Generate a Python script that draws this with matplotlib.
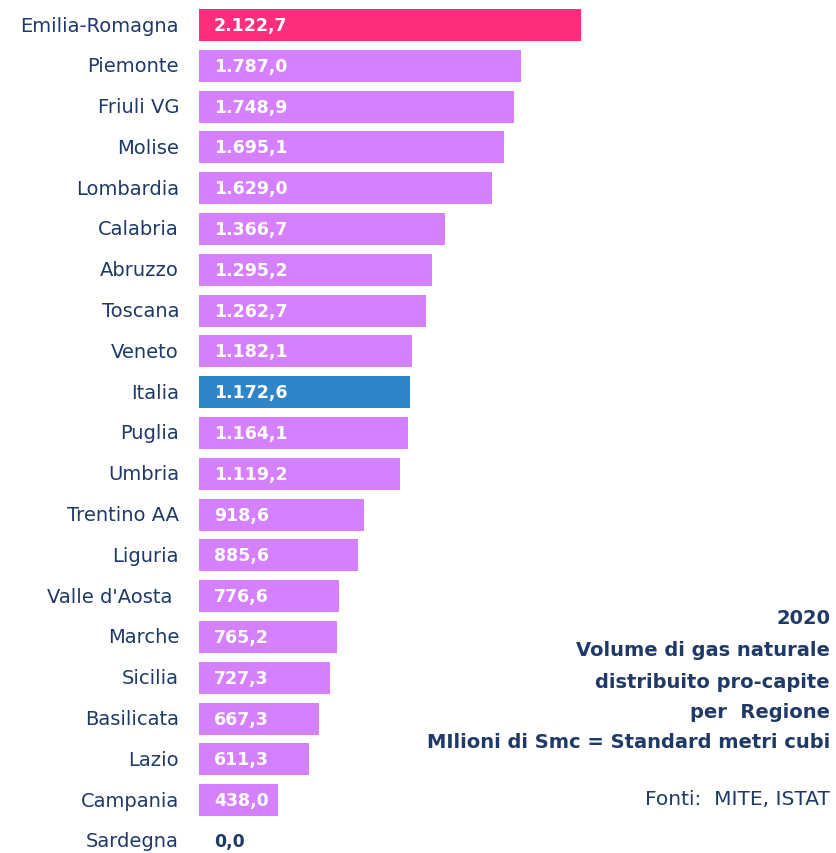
import matplotlib.pyplot as plt

# Volume di gas naturale distribuito pro-capite per Regione, 2020
regioni = ["Emilia-Romagna", "Piemonte", "Friuli VG", "Molise", "Lombardia",
           "Calabria", "Abruzzo", "Toscana", "Veneto", "Italia", "Puglia",
           "Umbria", "Trentino AA", "Liguria", "Valle d'Aosta ", "Marche",
           "Sicilia", "Basilicata", "Lazio", "Campania", "Sardegna"]
valori = [2122.7, 1787.0, 1748.9, 1695.1, 1629.0, 1366.7, 1295.2, 1262.7,
          1182.1, 1172.6, 1164.1, 1119.2, 918.6, 885.6, 776.6, 765.2,
          727.3, 667.3, 611.3, 438.0, 0.0]

navy = "#1F3A68"
viola = "#D580FF"
colori = []
for r in regioni:
    if r == "Emilia-Romagna":
        colori.append("#FF2D7E")
    elif r == "Italia":
        colori.append("#2E86C9")
    else:
        colori.append(viola)

def fmt(v):
    s = f"{v:,.1f}"
    return s.replace(",", "X").replace(".", ",").replace("X", ".")

W, H = 836, 854
fig = plt.figure(figsize=(W / 100, H / 100), dpi=100)
x0 = 199
ax = fig.add_axes([x0 / W, 0, (W - x0) / W, 1])

px_per_unit = (581 - x0) / 2122.7
step = 40.8
top = 26
ypos = list(range(len(regioni)))
ax.barh(ypos, valori, height=0.78, color=colori)
ax.set_xlim(0, (W - x0) / px_per_unit)
ax.set_ylim((H - top) / step, -top / step)
ax.axis("off")

off = 15 / px_per_unit
for i, (r, v) in enumerate(zip(regioni, valori)):
    ax.text(-20 / px_per_unit, i, r, ha="right", va="center", fontsize=14,
            color=navy, clip_on=False)
    col = "white" if v > 0 else navy
    ax.text(off, i, fmt(v), ha="left", va="center", fontsize=12.5,
            fontweight="bold", color=col)

righe = ["2020", "Volume di gas naturale", "distribuito pro-capite",
         "per  Regione", "MIlioni di Smc = Standard metri cubi"]
ys = [619, 651, 683, 713, 743]
for t, y in zip(righe, ys):
    fig.text(830 / W, 1 - y / H, t, ha="right", va="center", fontsize=14,
             fontweight="bold", color=navy)
fig.text(830 / W, 1 - 800 / H, "Fonti:  MITE, ISTAT", ha="right", va="center",
         fontsize=14.5, color=navy)

fig.savefig("out.png", dpi=100)
